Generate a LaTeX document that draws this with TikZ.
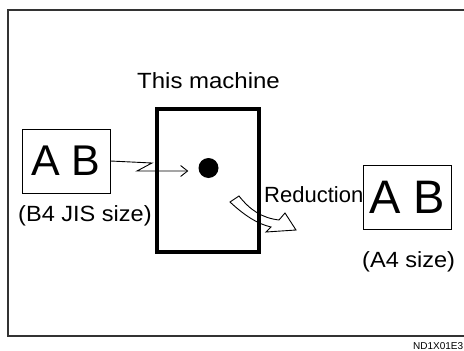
\documentclass[tikz,border=0pt]{standalone}
\usepackage{fontspec}
\setmainfont{Liberation Sans}
\usetikzlibrary{arrows.meta}
\tikzset{
  sheet/.style={draw,line width=0.9pt,minimum width=88pt,minimum height=64pt,inner sep=0pt},
  lbl/.style={inner sep=0pt,anchor=base west,font=\fontsize{22}{24}\selectfont},
  feed/.style={line width=0.9pt,-{Straight Barb[length=7pt,width=11pt]}},
}
\begin{document}
\begin{tikzpicture}[x=1pt,y=-1pt]
\useasboundingbox (0,0) rectangle (464,351);
\draw[line width=1.4pt,black!80] (464,10) -- (8,10) -- (8,336) -- (464,336);
\node[sheet,font=\fontsize{43}{43}\selectfont] (src) at (66,161) {A B};
\node[lbl,xscale=1.07] (srclbl) at (18,221) {(B4 JIS size)};
\node[sheet,font=\fontsize{47}{47}\selectfont] (dst) at (407,197.5) {A B};
\node[lbl,xscale=1.07] (dstlbl) at (362,267) {(A4 size)};
\node[lbl,xscale=1.09] (title) at (137,88) {This machine};
\node[lbl] (red) at (264,202) {Reduction};
\node[circle,fill,minimum size=20pt,inner sep=0pt] (dot) at (208.5,168) {};
% hollow bent arrow
\draw[line width=0.9pt,fill=white] (230,202) .. controls (245,216) and (258,224) .. (271,227)
  -- (266,232) -- (296,230) -- (285,213) -- (279,220)
  .. controls (262,218) and (250,210) .. (239,196) -- cycle;
\node[draw,line width=4pt,minimum width=102.5pt,minimum height=143pt,inner sep=0pt] (mach) at (207.75,180) {};
% paper feed
\coordinate (zA) at (152,163);
\coordinate (zB) at (137,171);
\draw[feed,shorten >=10pt] (src.east) -- (zA) -- (zB) -- (zB -| dot.west);
\node[anchor=base west,inner sep=0pt,font=\fontsize{10}{10}\selectfont] (code) at (413,349) {ND1X01E3};
\end{tikzpicture}
\end{document}
